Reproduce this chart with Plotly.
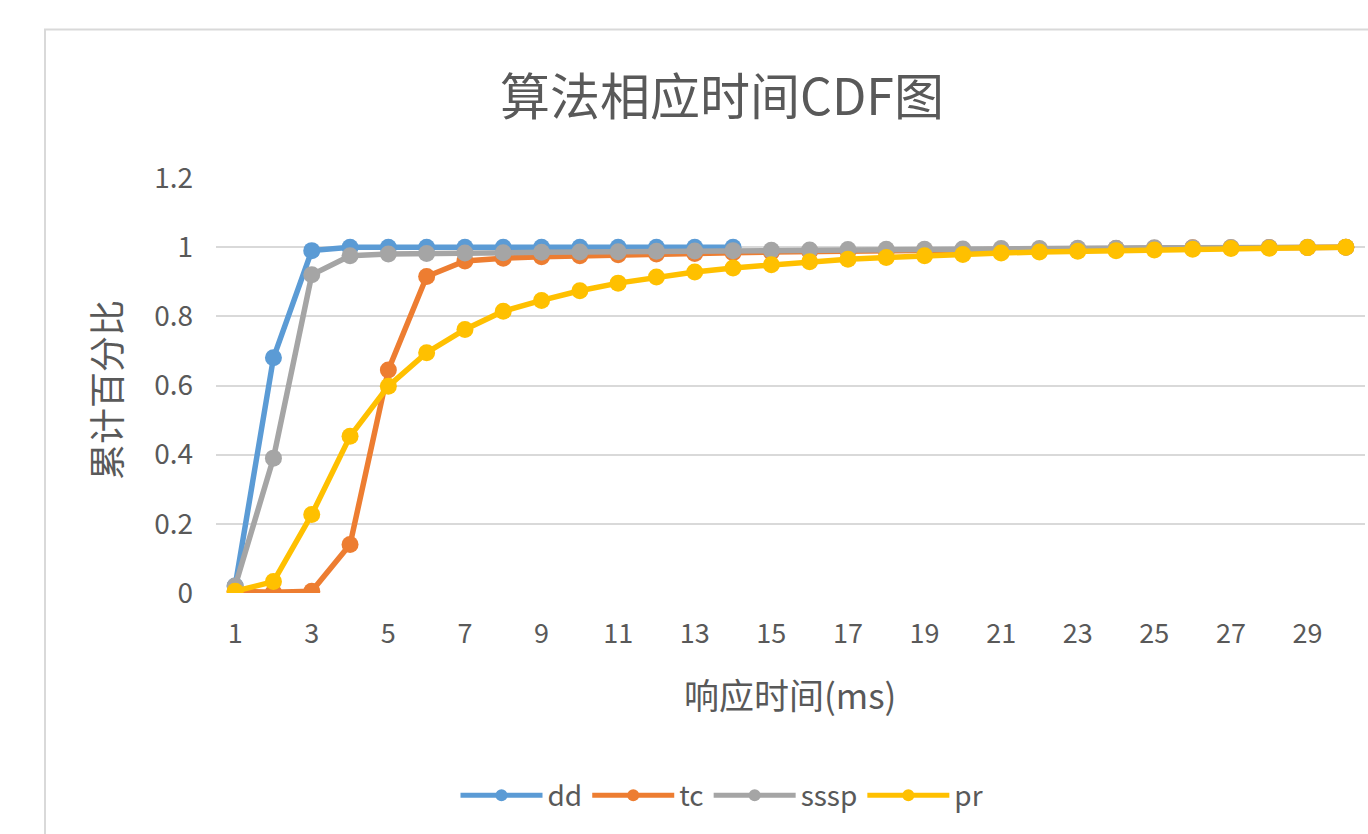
import plotly.graph_objects as go

# Response time buckets (ms) and cumulative share per algorithm
times = list(range(1, 31))
tick_vals = list(range(1, 31, 2))
y_ticks = [0, 0.2, 0.4, 0.6, 0.8, 1.0, 1.2]
y_tick_text = ["0", "0.2", "0.4", "0.6", "0.8", "1", "1.2"]

dd = [0.02, 0.68, 0.99, 1.0, 1.0, 1.0, 1.0, 1.0, 1.0, 1.0, 1.0, 1.0, 1.0, 1.0]
tc = [0.005, 0.002, 0.005, 0.14, 0.645, 0.915, 0.96, 0.968, 0.972, 0.975,
      0.978, 0.98, 0.982, 0.984, 0.986, 0.988, 0.989, 0.99, 0.991, 0.992,
      0.993, 0.994, 0.995, 0.996, 0.997, 0.998, 0.998, 0.999, 0.999, 1.0]
sssp = [0.02, 0.39, 0.92, 0.975, 0.98, 0.982, 0.983, 0.984, 0.985, 0.986,
        0.987, 0.988, 0.989, 0.99, 0.991, 0.992, 0.993, 0.994, 0.994, 0.995,
        0.996, 0.996, 0.997, 0.997, 0.998, 0.998, 0.999, 0.999, 1.0, 1.0]
pr = [0.005, 0.033, 0.227, 0.453, 0.598, 0.695, 0.762, 0.815, 0.846, 0.874,
      0.896, 0.914, 0.928, 0.94, 0.949, 0.958, 0.965, 0.97, 0.975, 0.979,
      0.983, 0.986, 0.988, 0.99, 0.992, 0.994, 0.996, 0.997, 0.999, 1.0]

series = [
    ("dd", dd, "#5B9BD5"),
    ("tc", tc, "#ED7D31"),
    ("sssp", sssp, "#A5A5A5"),
    ("pr", pr, "#FFC000"),
]

W, H = 1368, 834
PL, PR, PT, PB = 216, 1365, 178.3, 592.7   # plot area in pixels
TEXT = "#595959"
FONT = "Noto Sans CJK SC, Noto Sans, sans-serif"


def px(xp):
    return (xp - PL) / (PR - PL)


def py(yp):
    return (PB - yp) / (PB - PT)


fig = go.Figure()
for name, vals, color in series:
    fig.add_trace(go.Scatter(
        x=times[:len(vals)], y=vals, name=name, mode="lines+markers",
        line=dict(color=color, width=5.5),
        marker=dict(color=color, size=17),
    ))

fig.update_layout(
    width=W, height=H,
    margin=dict(l=PL, r=W - PR, t=PT, b=H - PB, autoexpand=False),
    paper_bgcolor="white", plot_bgcolor="white",
    font=dict(family=FONT, color=TEXT, size=28),
    showlegend=True,
    legend=dict(orientation="h", x=px(722), xanchor="center",
                y=py(795), yanchor="middle", itemwidth=82,
                font=dict(size=28, color=TEXT), itemsizing="constant",
                traceorder="normal"),
    xaxis=dict(range=[0.5, 30.5], tickmode="array", tickvals=tick_vals,
               showgrid=False, zeroline=False, showline=False, ticks="",
               ticklabelstandoff=22, tickfont=dict(size=27, color=TEXT)),
    yaxis=dict(range=[0, 1.2], tickmode="array", tickvals=y_ticks,
               ticktext=y_tick_text, showgrid=True, gridcolor="#D9D9D9",
               gridwidth=2, zeroline=False, showline=False, ticks="",
               ticklabelstandoff=22, tickfont=dict(size=28, color=TEXT)),
    annotations=[
        dict(text="算法相应时间CDF图", x=px(722), y=py(93), xref="paper",
             yref="paper", showarrow=False, xanchor="center", yanchor="middle",
             font=dict(size=50, color=TEXT)),
        dict(text="响应时间(ms)", x=px(790), y=py(693), xref="paper",
             yref="paper", showarrow=False, xanchor="center", yanchor="middle",
             font=dict(size=35, color=TEXT)),
        dict(text="累计百分比", x=px(105), y=py(390), xref="paper",
             yref="paper", showarrow=False, xanchor="center", yanchor="middle",
             textangle=-90, font=dict(size=36, color=TEXT)),
    ],
    shapes=[
        dict(type="rect", xref="paper", yref="paper",
             x0=px(45), x1=px(1400), y0=py(30), y1=py(860),
             line=dict(color="#D9D9D9", width=2), layer="below"),
    ],
)

fig.write_html("out.html")
